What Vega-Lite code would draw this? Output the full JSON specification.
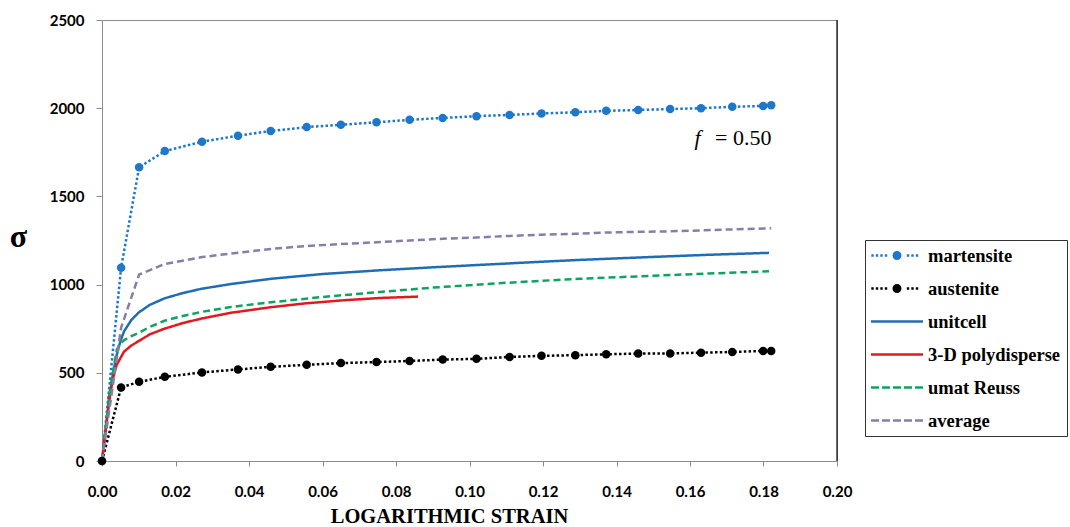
{
  "$schema": "https://vega.github.io/schema/vega-lite/v6.json",
  "width": 735,
  "height": 441,
  "autosize": {"type": "none"},
  "padding": {"left": 102, "top": 20, "right": 233, "bottom": 66},
  "background": "white",
  "config": {"view": {"stroke": "#8c8c8c", "strokeWidth": 1}},
  "data": {"values": [
    {"series":"martensite","strain":0,"sigma":0},
    {"series":"martensite","strain":0.0052,"sigma":1096},
    {"series":"martensite","strain":0.0101,"sigma":1665},
    {"series":"martensite","strain":0.0171,"sigma":1757},
    {"series":"martensite","strain":0.0272,"sigma":1810},
    {"series":"martensite","strain":0.037,"sigma":1844},
    {"series":"martensite","strain":0.0459,"sigma":1871},
    {"series":"martensite","strain":0.0557,"sigma":1893},
    {"series":"martensite","strain":0.065,"sigma":1906},
    {"series":"martensite","strain":0.0747,"sigma":1920},
    {"series":"martensite","strain":0.0837,"sigma":1934},
    {"series":"martensite","strain":0.0927,"sigma":1945},
    {"series":"martensite","strain":0.1019,"sigma":1955},
    {"series":"martensite","strain":0.1109,"sigma":1962},
    {"series":"martensite","strain":0.1196,"sigma":1970},
    {"series":"martensite","strain":0.1288,"sigma":1977},
    {"series":"martensite","strain":0.1372,"sigma":1985},
    {"series":"martensite","strain":0.1459,"sigma":1990},
    {"series":"martensite","strain":0.1546,"sigma":1995},
    {"series":"martensite","strain":0.163,"sigma":2000},
    {"series":"martensite","strain":0.1715,"sigma":2008},
    {"series":"martensite","strain":0.1799,"sigma":2013},
    {"series":"martensite","strain":0.1821,"sigma":2017},
    {"series":"austenite","strain":0,"sigma":0},
    {"series":"austenite","strain":0.0052,"sigma":417},
    {"series":"austenite","strain":0.0101,"sigma":449},
    {"series":"austenite","strain":0.0171,"sigma":477},
    {"series":"austenite","strain":0.0272,"sigma":502},
    {"series":"austenite","strain":0.037,"sigma":519},
    {"series":"austenite","strain":0.0459,"sigma":534},
    {"series":"austenite","strain":0.0557,"sigma":545},
    {"series":"austenite","strain":0.065,"sigma":555},
    {"series":"austenite","strain":0.0747,"sigma":561},
    {"series":"austenite","strain":0.0837,"sigma":567},
    {"series":"austenite","strain":0.0927,"sigma":575},
    {"series":"austenite","strain":0.1019,"sigma":579},
    {"series":"austenite","strain":0.1109,"sigma":590},
    {"series":"austenite","strain":0.1196,"sigma":596},
    {"series":"austenite","strain":0.1288,"sigma":600},
    {"series":"austenite","strain":0.1372,"sigma":605},
    {"series":"austenite","strain":0.1459,"sigma":609},
    {"series":"austenite","strain":0.1546,"sigma":610},
    {"series":"austenite","strain":0.163,"sigma":614},
    {"series":"austenite","strain":0.1715,"sigma":618},
    {"series":"austenite","strain":0.1799,"sigma":624},
    {"series":"austenite","strain":0.1821,"sigma":624},
    {"series":"unitcell","strain":0,"sigma":0},
    {"series":"unitcell","strain":0.002,"sigma":360},
    {"series":"unitcell","strain":0.003,"sigma":500},
    {"series":"unitcell","strain":0.004,"sigma":600},
    {"series":"unitcell","strain":0.005,"sigma":680},
    {"series":"unitcell","strain":0.006,"sigma":735},
    {"series":"unitcell","strain":0.008,"sigma":800},
    {"series":"unitcell","strain":0.01,"sigma":842},
    {"series":"unitcell","strain":0.013,"sigma":885},
    {"series":"unitcell","strain":0.017,"sigma":922},
    {"series":"unitcell","strain":0.022,"sigma":952},
    {"series":"unitcell","strain":0.027,"sigma":976},
    {"series":"unitcell","strain":0.035,"sigma":1003},
    {"series":"unitcell","strain":0.046,"sigma":1033},
    {"series":"unitcell","strain":0.06,"sigma":1060},
    {"series":"unitcell","strain":0.0755,"sigma":1081},
    {"series":"unitcell","strain":0.09,"sigma":1098},
    {"series":"unitcell","strain":0.105,"sigma":1114},
    {"series":"unitcell","strain":0.12,"sigma":1130},
    {"series":"unitcell","strain":0.13,"sigma":1140},
    {"series":"unitcell","strain":0.15,"sigma":1157},
    {"series":"unitcell","strain":0.165,"sigma":1169},
    {"series":"unitcell","strain":0.1815,"sigma":1180},
    {"series":"3-D polydisperse","strain":0,"sigma":0},
    {"series":"3-D polydisperse","strain":0.002,"sigma":350},
    {"series":"3-D polydisperse","strain":0.003,"sigma":470},
    {"series":"3-D polydisperse","strain":0.004,"sigma":545},
    {"series":"3-D polydisperse","strain":0.006,"sigma":620},
    {"series":"3-D polydisperse","strain":0.008,"sigma":655},
    {"series":"3-D polydisperse","strain":0.01,"sigma":680},
    {"series":"3-D polydisperse","strain":0.013,"sigma":718},
    {"series":"3-D polydisperse","strain":0.017,"sigma":750},
    {"series":"3-D polydisperse","strain":0.022,"sigma":782},
    {"series":"3-D polydisperse","strain":0.027,"sigma":807},
    {"series":"3-D polydisperse","strain":0.035,"sigma":840},
    {"series":"3-D polydisperse","strain":0.046,"sigma":872},
    {"series":"3-D polydisperse","strain":0.055,"sigma":893},
    {"series":"3-D polydisperse","strain":0.065,"sigma":910},
    {"series":"3-D polydisperse","strain":0.0755,"sigma":924},
    {"series":"3-D polydisperse","strain":0.086,"sigma":932},
    {"series":"umat Reuss","strain":0,"sigma":0},
    {"series":"umat Reuss","strain":0.002,"sigma":380},
    {"series":"umat Reuss","strain":0.004,"sigma":630},
    {"series":"umat Reuss","strain":0.005,"sigma":665},
    {"series":"umat Reuss","strain":0.006,"sigma":685},
    {"series":"umat Reuss","strain":0.008,"sigma":708},
    {"series":"umat Reuss","strain":0.01,"sigma":727},
    {"series":"umat Reuss","strain":0.013,"sigma":760},
    {"series":"umat Reuss","strain":0.017,"sigma":795},
    {"series":"umat Reuss","strain":0.022,"sigma":822},
    {"series":"umat Reuss","strain":0.027,"sigma":845},
    {"series":"umat Reuss","strain":0.035,"sigma":873},
    {"series":"umat Reuss","strain":0.046,"sigma":900},
    {"series":"umat Reuss","strain":0.06,"sigma":930},
    {"series":"umat Reuss","strain":0.0755,"sigma":958},
    {"series":"umat Reuss","strain":0.09,"sigma":983},
    {"series":"umat Reuss","strain":0.105,"sigma":1004},
    {"series":"umat Reuss","strain":0.12,"sigma":1022},
    {"series":"umat Reuss","strain":0.13,"sigma":1033},
    {"series":"umat Reuss","strain":0.15,"sigma":1050},
    {"series":"umat Reuss","strain":0.165,"sigma":1063},
    {"series":"umat Reuss","strain":0.1815,"sigma":1075},
    {"series":"average","strain":0,"sigma":0},
    {"series":"average","strain":0.0052,"sigma":756},
    {"series":"average","strain":0.0101,"sigma":1057},
    {"series":"average","strain":0.0171,"sigma":1117},
    {"series":"average","strain":0.0272,"sigma":1156},
    {"series":"average","strain":0.037,"sigma":1181},
    {"series":"average","strain":0.0459,"sigma":1202},
    {"series":"average","strain":0.0557,"sigma":1219},
    {"series":"average","strain":0.065,"sigma":1230},
    {"series":"average","strain":0.0747,"sigma":1240},
    {"series":"average","strain":0.0837,"sigma":1250},
    {"series":"average","strain":0.0927,"sigma":1260},
    {"series":"average","strain":0.1019,"sigma":1267},
    {"series":"average","strain":0.1109,"sigma":1276},
    {"series":"average","strain":0.1196,"sigma":1283},
    {"series":"average","strain":0.1288,"sigma":1288},
    {"series":"average","strain":0.1372,"sigma":1295},
    {"series":"average","strain":0.1459,"sigma":1299},
    {"series":"average","strain":0.1546,"sigma":1302},
    {"series":"average","strain":0.163,"sigma":1307},
    {"series":"average","strain":0.1715,"sigma":1313},
    {"series":"average","strain":0.1799,"sigma":1318},
    {"series":"average","strain":0.1821,"sigma":1320}
  ]},
  "layer": [
    {
      "data": {"values": [{}]},
      "mark": {"type": "rule", "color": "#1a1a1a", "strokeWidth": 1.3},
      "encoding": {"x": {"datum": 0.2, "type": "quantitative", "scale": {"domain": [0, 0.2], "nice": false}}}
    },
    {
      "mark": {"type": "line", "strokeWidth": 2.5, "strokeCap": "butt", "interpolate": "linear"},
      "encoding": {
        "x": {"field": "strain", "type": "quantitative",
          "scale": {"domain": [0, 0.2], "nice": false},
          "axis": {"values": [0,0.02,0.04,0.06,0.08,0.1,0.12,0.14,0.16,0.18,0.2], "format": ".2f", "grid": false,
            "domainColor": "#8c8c8c", "tickColor": "#8c8c8c", "tickSize": 5,
            "labelFont": "Lato", "labelFontWeight": "bold", "labelFontSize": 15, "labelColor": "#000", "labelPadding": 18,
            "labelFlush": false, "labelOverlap": false,
            "title": "LOGARITHMIC STRAIN", "titleFont": "Liberation Serif", "titleFontWeight": "bold", "titleFontSize": 20.5,
            "titleColor": "#000", "titleX": 347, "titleY": 61, "titleBaseline": "alphabetic", "titleAnchor": null}},
        "y": {"field": "sigma", "type": "quantitative",
          "scale": {"domain": [0, 2500], "nice": false},
          "axis": {"values": [0,500,1000,1500,2000,2500], "format": "d", "grid": false,
            "domainColor": "#8c8c8c", "tickColor": "#8c8c8c", "tickSize": 6,
            "labelFont": "Lato", "labelFontWeight": "bold", "labelFontSize": 15, "labelColor": "#000", "labelPadding": 12,
            "title": "σ", "titleFont": "Liberation Serif", "titleFontWeight": "bold", "titleFontSize": 32, "titleColor": "#000",
            "titleAngle": 0, "titleX": -84, "titleY": 226, "titleAlign": "center", "titleBaseline": "alphabetic"}},
        "color": {"field": "series", "type": "nominal",
          "scale": {"domain": ["martensite","austenite","unitcell","3-D polydisperse","umat Reuss","average"],
                    "range": ["#1f77c9","#000000","#1f6db3","#e3191f","#0ea45f","#8a7da5"]},
          "legend": {"orient": "none", "legendX": 763, "legendY": 220, "title": null,
            "strokeColor": "#333333", "fillColor": "white", "padding": 6, "rowPadding": 14,
            "symbolSize": 361, "symbolStrokeWidth": 0, "labelOffset": 38,
            "labelFont": "Liberation Serif", "labelFontWeight": "bold", "labelFontSize": 18.5, "labelColor": "#000", "labelLimit": 300,
            "encode": {"symbols": {"update": {
              "shape": {"signal": "indexof(['martensite','austenite'], datum.value) >= 0 ? 'M-0.968,-0.126h0.253v0.253h-0.253ZM-0.494,-0.126h0.253v0.253h-0.253ZM-0.021,-0.126h0.253v0.253h-0.253ZM0.453,-0.126h0.253v0.253h-0.253ZM2.769,-0.126h0.253v0.253h-0.253ZM3.242,-0.126h0.253v0.253h-0.253ZM3.716,-0.126h0.253v0.253h-0.253ZM1.263,0A0.474,0.474,0,1,0,2.211,0A0.474,0.474,0,1,0,1.263,0Z' : indexof(['umat Reuss','average'], datum.value) >= 0 ? 'M-1,-0.137H-0.158V0.137H-1ZM0.158,-0.137H1V0.137H0.158ZM1.316,-0.137H2.158V0.137H1.316ZM2.474,-0.137H3.316V0.137H2.474ZM3.632,-0.137H4.474V0.137H3.632Z' : 'M-1,-0.137H4.474V0.137H-1Z'"},
              "fill": {"scale": "color", "field": "value"},
              "stroke": {"value": "transparent"},
              "strokeWidth": {"value": 0},
              "opacity": {"value": 1},
              "strokeDash": {"value": [1, 0]}
            }}}
          }},
        "strokeDash": {"field": "series", "type": "nominal",
          "scale": {"domain": ["martensite","austenite","unitcell","3-D polydisperse","umat Reuss","average"],
                    "range": [[2.5,2.3],[2.5,2.3],[1,0],[1,0],[7,4],[7,4]]},
          "legend": null},
        "order": {"field": "strain", "type": "quantitative"}
      }
    },
    {
      "transform": [{"filter": "datum.series === 'martensite' || datum.series === 'austenite'"}],
      "mark": {"type": "point", "filled": true, "size": 72, "opacity": 1, "shape": "circle"},
      "encoding": {
        "x": {"field": "strain", "type": "quantitative"},
        "y": {"field": "sigma", "type": "quantitative"},
        "color": {"field": "series", "type": "nominal"}
      }
    },
    {
      "data": {"values": [{}]},
      "mark": {"type": "text", "text": "f", "font": "Liberation Serif", "fontStyle": "italic", "fontSize": 22, "align": "left", "baseline": "alphabetic", "color": "#000"},
      "encoding": {"x": {"datum": 0.1612, "type": "quantitative"}, "y": {"datum": 1791, "type": "quantitative"}}
    },
    {
      "data": {"values": [{}]},
      "mark": {"type": "text", "text": "= 0.50", "font": "Liberation Serif", "fontSize": 22, "align": "left", "baseline": "alphabetic", "color": "#000"},
      "encoding": {"x": {"datum": 0.1668, "type": "quantitative"}, "y": {"datum": 1791, "type": "quantitative"}}
    }
  ]
}
